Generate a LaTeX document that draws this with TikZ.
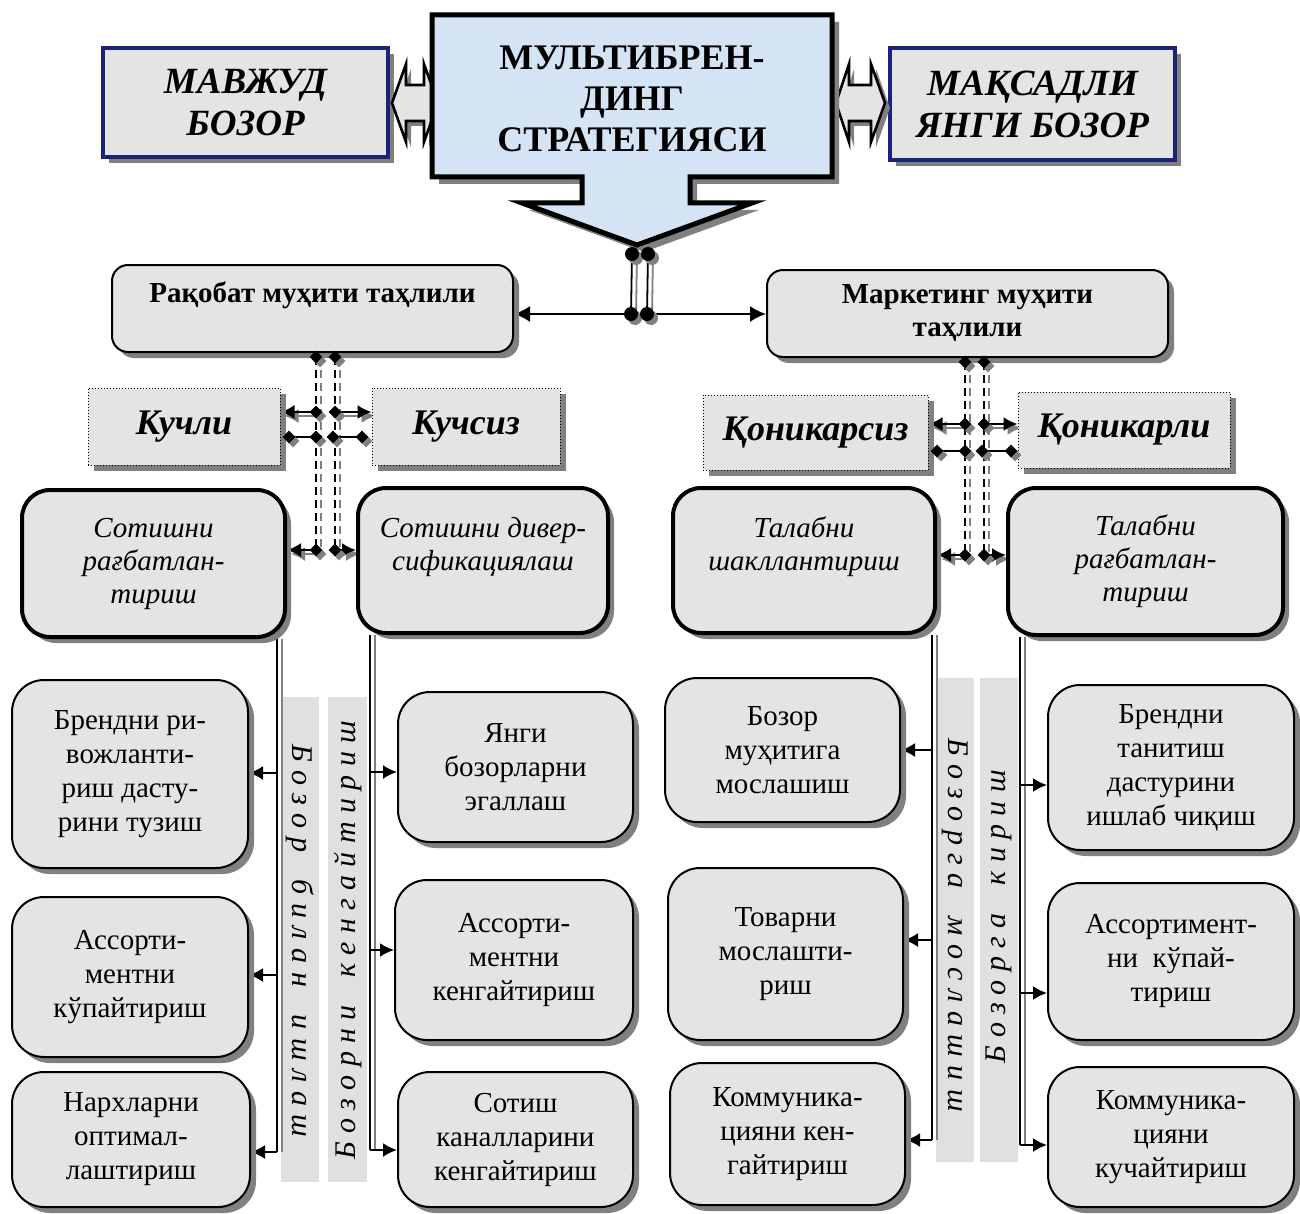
\documentclass[tikz,border=0pt]{standalone}
\usepackage{fontspec}
\setmainfont{Liberation Serif}
\usetikzlibrary{shadows,arrows.meta,shapes.geometric}
\definecolor{navy}{RGB}{25,35,120}
\definecolor{texg}{RGB}{228,228,228}
\definecolor{stripg}{RGB}{224,224,224}
\definecolor{lblue}{RGB}{212,228,245}
\definecolor{shd}{RGB}{128,128,128}
\pgfdeclarelayer{back}
\pgfdeclarelayer{mid}
\pgfsetlayers{back,mid,main}
\newcommand\boxat[7]{\node[#6, minimum width={(#4-#2)*0.5pt}, minimum height={(#5-#3)*0.5pt}] (#1) at ({(#2+#4)/2},{(#3+#5)/2}) {#7};}
\begin{document}
\begin{tikzpicture}[x=0.5pt,y=-0.5pt,
  shad/.style={drop shadow={shadow xshift=3pt,shadow yshift=-3pt,fill=shd,opacity=1}},
  base/.style={inner sep=0pt,align=center,fill=texg,shad},
  topbox/.style={base,draw=navy,line width=1.6pt,font=\fontsize{18.5}{21}\selectfont\bfseries\itshape},
  rakbox/.style={base,draw,line width=1pt,rounded corners=8pt,font=\fontsize{14.5}{16.5}\selectfont\bfseries},
  kbox/.style={base,draw,densely dotted,line width=0.5pt,font=\fontsize{18}{20}\selectfont\bfseries\itshape},
  sbox/.style={base,draw,line width=2pt,rounded corners=14pt,font=\fontsize{14.5}{16.5}\selectfont\itshape},
  bbox/.style={base,draw,line width=1pt,rounded corners=16pt,font=\fontsize{14.5}{17}\selectfont},
  strip/.style={fill=stripg,inner sep=0pt},
  vtext/.style={font=\fontsize{15}{17}\selectfont\itshape\addfontfeature{LetterSpace=28}},
  dotn/.style={circle,fill=black,inner sep=0pt,minimum size=7pt,drop shadow={shadow xshift=2pt,shadow yshift=-2pt,fill=shd,opacity=1}},
  dia/.style={diamond,fill=black,inner sep=0pt,minimum size=6.5pt,drop shadow={shadow xshift=2pt,shadow yshift=-2pt,fill=shd,opacity=1}},
  arr/.style={line width=1pt,-{Latex[length=7pt,width=7pt]}},
  arrb/.style={line width=1pt,-{Latex[length=8pt,width=8pt]}},
  sh/.style={draw=shd,transform canvas={shift={(2pt,-2pt)}}},
  shx/.style={draw=shd,transform canvas={xshift=2.5pt}},
  dsh/.style={line width=1pt,dash pattern=on 4pt off 2.5pt},
  vl/.style={line width=0.9pt}]
\useasboundingbox (0,0) rectangle (1300,1214);

% ---------- top row ----------
\boxat{mav}{103}{48}{388}{157}{topbox}{МАВЖУД\\БОЗОР}
\boxat{maq}{890}{48}{1175}{160}{topbox}{МАҚСАДЛИ\\ЯНГИ БОЗОР}

\begin{scope}[shift={(5,5)}]
\fill[shd] (392,103) -- (406,64) -- (406,85) -- (424,85) -- (424,64) -- (438,103) -- (424,142) -- (424,121) -- (406,121) -- (406,142) -- cycle;
\fill[shd] (836,103) -- (849,64) -- (849,85) -- (871,85) -- (871,64) -- (885,103) -- (871,142) -- (871,121) -- (849,121) -- (849,142) -- cycle;
\end{scope}
\draw[fill=texg,line width=1.3pt,line join=miter] (392,103) -- (406,64) -- (406,85) -- (424,85) -- (424,64) -- (438,103) -- (424,142) -- (424,121) -- (406,121) -- (406,142) -- cycle;
\draw[fill=texg,line width=1.3pt,line join=miter] (836,103) -- (849,64) -- (849,85) -- (871,85) -- (871,64) -- (885,103) -- (871,142) -- (871,121) -- (849,121) -- (849,142) -- cycle;

\begin{scope}[shift={(7,7)}]
\fill[shd] (432,15) -- (832,15) -- (832,177) -- (690,177) -- (690,203) -- (752,203) -- (637,245) -- (522,203) -- (582,203) -- (582,177) -- (432,177) -- cycle;
\end{scope}
\draw[fill=lblue,line width=2.5pt,line join=miter] (432,15) -- (832,15) -- (832,177) -- (690,177) -- (690,203) -- (752,203) -- (637,245) -- (522,203) -- (582,203) -- (582,177) -- (432,177) -- cycle;
\node[font=\fontsize{18}{20.5}\selectfont\bfseries,align=center] (strat) at (632,99) {МУЛЬТИБРЕН-\\ДИНГ\\СТРАТЕГИЯСИ};

% ---------- dots ----------
\node[dotn] (dA) at (632,254) {};
\node[dotn] (dB) at (648,254) {};
\node[dotn] (dC) at (631,314) {};
\node[dotn] (dD) at (647,314) {};

% ---------- second row ----------
\boxat{rak}{112}{265}{513}{352}{rakbox}{Рақобат муҳити таҳлили\\\mbox{}}
\boxat{mark}{767}{270}{1168}{357}{rakbox}{Маркетинг муҳити\\таҳлили}

% ---------- third row ----------
\boxat{kuch}{88}{388}{280}{465}{kbox}{Кучли}
\boxat{kuchs}{372}{388}{560}{465}{kbox}{Кучсиз}
\boxat{qons}{703}{395}{928}{470}{kbox}{Қоникарсиз}
\boxat{qon}{1018}{392}{1230}{468}{kbox}{Қоникарли}

% ---------- fourth row ----------
\boxat{s1}{22}{490}{285}{637}{sbox}{Сотишни\\рағбатлан-\\тириш}
\boxat{s2}{358}{488}{608}{633}{sbox}{Сотишни дивер-\\сификациялаш\\\mbox{}}
\boxat{t1}{673}{488}{935}{633}{sbox}{Талабни\\шакллантириш\\\mbox{}}
\boxat{t2}{1008}{488}{1283}{635}{sbox}{Талабни\\рағбатлан-\\тириш}

% ---------- bottom boxes ----------
\boxat{b1}{12}{680}{248}{868}{bbox}{Брендни ри-\\вожланти-\\риш дасту-\\рини тузиш}
\boxat{b2}{12}{897}{248}{1057}{bbox}{Ассорти-\\ментни\\кўпайтириш}
\boxat{b3}{12}{1072}{250}{1207}{bbox}{Нархларни\\оптимал-\\лаштириш}
\boxat{m1}{398}{692}{633}{842}{bbox}{Янги\\бозорларни\\эгаллаш}
\boxat{m2}{395}{880}{633}{1040}{bbox}{Ассорти-\\ментни\\кенгайтириш}
\boxat{m3}{398}{1072}{633}{1207}{bbox}{Сотиш\\каналларини\\кенгайтириш}
\boxat{n1}{665}{678}{900}{822}{bbox}{Бозор\\муҳитига\\мослашиш}
\boxat{n2}{668}{868}{903}{1040}{bbox}{Товарни\\мослашти-\\риш}
\boxat{n3}{670}{1063}{905}{1205}{bbox}{Коммуника-\\цияни кен-\\гайтириш}
\boxat{r1}{1048}{685}{1294}{850}{bbox}{Брендни\\танитиш\\дастурини\\ишлаб чиқиш}
\boxat{r2}{1048}{883}{1294}{1040}{bbox}{Ассортимент-\\ни~ кўпай-\\тириш}
\boxat{r3}{1048}{1067}{1294}{1207}{bbox}{Коммуника-\\цияни\\кучайтириш}

% ---------- strips ----------
\begin{pgfonlayer}{back}
\boxat{stA}{281}{697}{319}{1182}{strip}{}
\boxat{stB}{328}{697}{367}{1182}{strip}{}
\boxat{stC}{936}{678}{974}{1162}{strip}{}
\boxat{stD}{980}{678}{1018}{1162}{strip}{}
\end{pgfonlayer}
\node[vtext,rotate=-90] (txA) at (300,941) {Бозор\hspace{0.4em} билан\hspace{0.4em} ишлаш};
\node[vtext,rotate=90] (txB) at (348,940) {Бозорни\hspace{0.4em} кенгайтириш};
\node[vtext,rotate=-90] (txC) at (955,925) {Бозорга\hspace{0.4em} мослашиш};
\node[vtext,rotate=90] (txD) at (999,917) {Бозорга\hspace{0.4em} кириш};

% ---------- diamonds ----------
\node[dia] (lt1) at (316,357) {};
\node[dia] (lt2) at (335,357) {};
\node[dia] (lm1) at (316,412) {};
\node[dia] (lm2) at (335,412) {};
\node[dia] (ll1) at (289,437) {};
\node[dia] (ll2) at (316,437) {};
\node[dia] (ll3) at (333,437) {};
\node[dia] (ll4) at (362,437) {};
\node[dia] (lb1) at (316,550) {};
\node[dia] (lb2) at (335,550) {};

\node[dia] (rt1) at (965,362) {};
\node[dia] (rt2) at (984,362) {};
\node[dia] (rm1) at (965,424) {};
\node[dia] (rm2) at (984,424) {};
\node[dia] (rl1) at (937,451) {};
\node[dia] (rl2) at (965,451) {};
\node[dia] (rl3) at (982,451) {};
\node[dia] (rl4) at (1011,451) {};
\node[dia] (rb1) at (965,555) {};
\node[dia] (rb2) at (984,555) {};

% ---------- line end coordinates ----------
\coordinate (L1) at (277,1152);
\coordinate (L2) at (370,1150);
\coordinate (L3) at (932,1140);
\coordinate (L4) at (1020,1145);
\coordinate (L1a) at (277,773);
\coordinate (L1b) at (277,975);
\coordinate (L2a) at (370,772);
\coordinate (L2b) at (370,950);
\coordinate (L3a) at (932,750);
\coordinate (L3b) at (932,940);
\coordinate (L4a) at (1020,785);
\coordinate (L4b) at (1020,993);

\begin{pgfonlayer}{mid}
% centre connectors
\draw[vl,shx] (dA.center) -- (dC.center);
\draw[vl,shx] (dB.center) -- (dD.center);
\draw[vl] (dA.center) -- (dC.center);
\draw[vl] (dB.center) -- (dD.center);
\draw[arrb] (dC.center) -- (dC -| rak.east);
\draw[arrb] (dD.center) -- (dD -| mark.west);

% dashed connectors, left
\draw[dsh,shx] (lt1.center) -- (lb1.center);
\draw[dsh,shx] (lt2.center) -- (lb2.center);
\draw[dsh] (lt1.center) -- (lb1.center);
\draw[dsh] (lt2.center) -- (lb2.center);
\draw[arr,sh] (lm1.center) -- (lm1 -| kuch.east);
\draw[arr,sh] (lm2.center) -- (lm2 -| kuchs.west);
\draw[arr] (lm1.center) -- (lm1 -| kuch.east);
\draw[arr] (lm2.center) -- (lm2 -| kuchs.west);
\draw[line width=1pt] (ll1.center) -- (ll2.center);
\draw[line width=1pt] (ll3.center) -- (ll4.center);
\draw[arr,sh] (lb1.center) -- (lb1 -| s1.east);
\draw[arr,sh] (lb2.center) -- (lb2 -| s2.west);
\draw[arr] (lb1.center) -- (lb1 -| s1.east);
\draw[arr] (lb2.center) -- (lb2 -| s2.west);

% dashed connectors, right
\draw[dsh,shx] (rt1.center) -- (rb1.center);
\draw[dsh,shx] (rt2.center) -- (rb2.center);
\draw[dsh] (rt1.center) -- (rb1.center);
\draw[dsh] (rt2.center) -- (rb2.center);
\draw[arr,sh] (rm1.center) -- (rm1 -| qons.east);
\draw[arr,sh] (rm2.center) -- (rm2 -| qon.west);
\draw[arr] (rm1.center) -- (rm1 -| qons.east);
\draw[arr] (rm2.center) -- (rm2 -| qon.west);
\draw[line width=1pt] (rl1.center) -- (rl2.center);
\draw[line width=1pt] (rl3.center) -- (rl4.center);
\draw[arr,sh] (rb1.center) -- (rb1 -| t1.east);
\draw[arr,sh] (rb2.center) -- (rb2 -| t2.west);
\draw[arr] (rb1.center) -- (rb1 -| t1.east);
\draw[arr] (rb2.center) -- (rb2 -| t2.west);

% vertical trunk lines
\draw[vl,shx] (s1.south -| L1) -- (L1);
\draw[vl,shx] (s2.south -| L2) -- (L2);
\draw[vl,shx] (t1.south -| L3) -- (L3);
\draw[vl,shx] (t2.south -| L4) -- (L4);
\draw[vl] (s1.south -| L1) -- (L1);
\draw[vl] (s2.south -| L2) -- (L2);
\draw[vl] (t1.south -| L3) -- (L3);
\draw[vl] (t2.south -| L4) -- (L4);

\draw[arr] (L1a) -- (L1a -| b1.east);
\draw[arr] (L1b) -- (L1b -| b2.east);
\draw[arr] (L1) -- (L1 -| b3.east);
\draw[arr] (L2a) -- (L2a -| m1.west);
\draw[arr] (L2b) -- (L2b -| m2.west);
\draw[arr] (L2) -- (L2 -| m3.west);
\draw[arr] (L3a) -- (L3a -| n1.east);
\draw[arr] (L3b) -- (L3b -| n2.east);
\draw[arr] (L3) -- (L3 -| n3.east);
\draw[arr] (L4a) -- (L4a -| r1.west);
\draw[arr] (L4b) -- (L4b -| r2.west);
\draw[arr] (L4) -- (L4 -| r3.west);
\end{pgfonlayer}
\end{tikzpicture}
\end{document}
